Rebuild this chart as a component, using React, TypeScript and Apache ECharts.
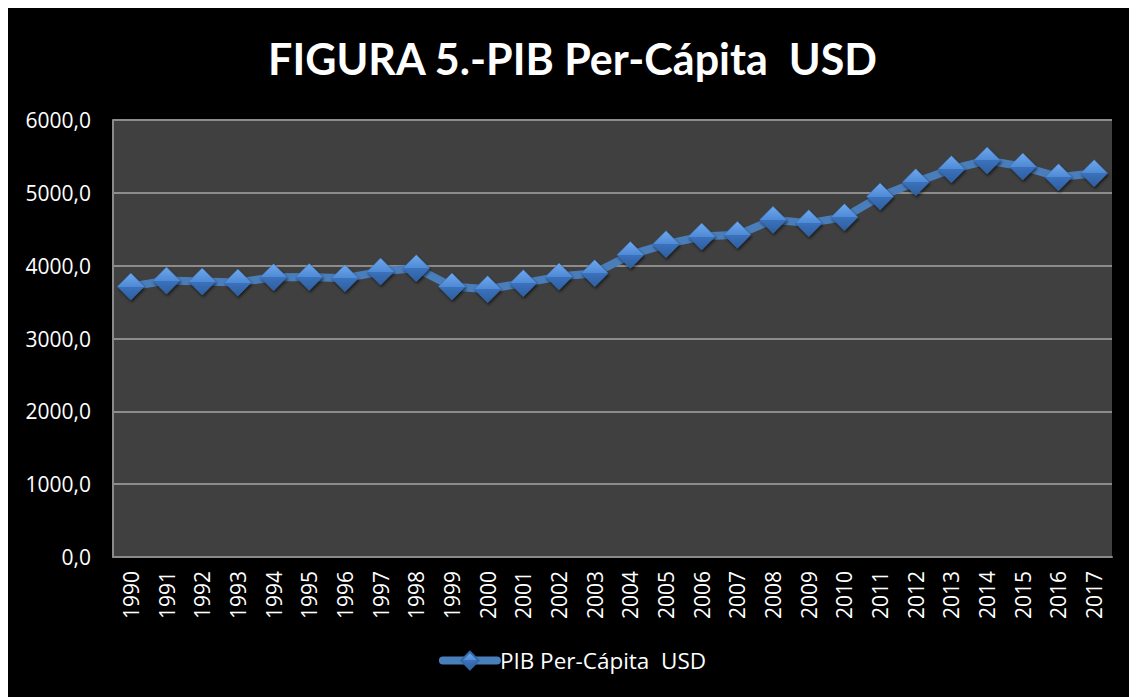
import React, { useEffect, useRef } from "react";
import * as echarts from "echarts";

const years = [
  "1990", "1991", "1992", "1993", "1994", "1995", "1996", "1997", "1998", "1999",
  "2000", "2001", "2002", "2003", "2004", "2005", "2006", "2007", "2008", "2009",
  "2010", "2011", "2012", "2013", "2014", "2015", "2016", "2017",
];
const pibPerCapita = [
  3713, 3795, 3782, 3768, 3842, 3846, 3828, 3919, 3966, 3713,
  3677, 3760, 3850, 3897, 4148, 4295, 4400, 4423, 4629, 4584,
  4666, 4949, 5147, 5325, 5444, 5361, 5215, 5270,
];
const seriesName = "PIB Per-Cápita  USD";
const titleText = "FIGURA 5.-PIB Per-Cápita  USD";

const FONT = "'Open Sans', sans-serif";
const TITLE_FONT = "Lato, 'Open Sans', sans-serif";

export default function App() {
  const ref = useRef<HTMLDivElement>(null);
  useEffect(() => {
    if (!ref.current) return;
    const chart = echarts.init(ref.current, undefined, { renderer: "svg" });
    const markerFill = new echarts.graphic.LinearGradient(0, 0, 0, 1, [
      { offset: 0, color: "#6ea8ec" },
      { offset: 0.5, color: "#4f8ad6" },
      { offset: 0.5, color: "#3b72bd" },
      { offset: 1, color: "#2e5f9f" },
    ]);
    chart.setOption({
      animation: false,
      backgroundColor: "#000000",
      textStyle: { fontFamily: FONT },
      title: {
        text: titleText,
        left: "center",
        top: 24,
        textStyle: { color: "#ffffff", fontSize: 43, fontWeight: "bold", fontFamily: TITLE_FONT },
      },
      grid: {
        left: 105,
        top: 112,
        right: 25,
        bottom: 140,
        show: true,
        backgroundColor: "#404040",
        borderWidth: 0,
      },
      legend: {
        bottom: 20,
        left: "center",
        itemWidth: 54,
        itemHeight: 22,
        itemGap: 0,
        lineStyle: { width: 8, cap: "round", color: "#4a7ebb" },
        textStyle: { color: "#ffffff", fontSize: 22.5, fontFamily: FONT, padding: [0, 0, 0, -2] },
        data: [seriesName],
      },
      xAxis: {
        type: "category",
        data: years,
        boundaryGap: true,
        axisLine: { show: true, lineStyle: { color: "#8a8a8a", width: 2 } },
        axisTick: { show: false },
        axisLabel: { color: "#ffffff", fontSize: 21, rotate: 90, margin: 14, fontFamily: FONT },
      },
      yAxis: {
        type: "value",
        min: 0,
        max: 6000,
        interval: 1000,
        axisLine: { show: true, lineStyle: { color: "#8a8a8a", width: 2 } },
        axisTick: { show: false },
        splitLine: { show: true, lineStyle: { color: "#8c8c8c", width: 2 } },
        axisLabel: {
          color: "#ffffff",
          fontSize: 21,
          margin: 22,
          fontFamily: FONT,
          formatter: (v: number) => v.toFixed(1).replace(".", ","),
        },
      },
      series: [
        {
          name: seriesName,
          type: "line",
          data: pibPerCapita,
          symbol: "diamond",
          symbolSize: 27,
          lineStyle: { color: "#4a7ebb", width: 8 },
          itemStyle: {
            color: markerFill,
            borderColor: "#3567a8",
            borderWidth: 0.5,
            shadowBlur: 3,
            shadowColor: "rgba(0,0,0,0.6)",
            shadowOffsetX: 1,
            shadowOffsetY: 2,
          },
          emphasis: { disabled: true },
        },
      ],
    });
    return () => chart.dispose();
  }, []);
  return <div ref={ref} style={{ width: 1129, height: 689 }} />;
}
